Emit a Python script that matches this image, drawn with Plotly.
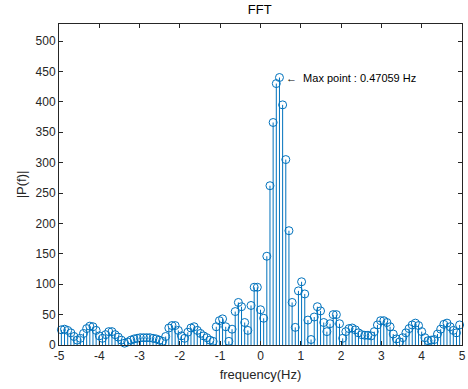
import numpy as np
import plotly.graph_objects as go

# frequency bins: k * fs/N with fs=20, N=255, shown within [-5, 5]
k_index = list(range(-63, 64))
df = 20.0 / 255.0
freq = [k * df for k in k_index]

magnitude = [
    # k = -63 .. -27
    25, 26, 24, 20, 14, 8, 11, 19, 27, 31, 30, 24, 15, 11, 17, 22, 22, 17, 13, 8,
    3, 5, 8, 10, 11, 12, 12, 12, 12, 11, 10, 8, 6, 14, 28, 32, 32,
    # k = -26 .. -1
    24, 15, 11, 21, 28, 30, 24, 19, 15, 12, 8, 6, 30, 40, 43, 30, 6, 26, 55, 70,
    63, 37, 24, 65, 95, 95,
    # k = 0 .. 25
    58, 44, 146, 262, 366, 430, 440, 395, 305, 188, 70, 29, 89, 104, 84, 41, 9, 46,
    63, 56, 37, 22, 35, 50, 50, 35,
    # k = 26 .. 63
    11, 22, 27, 28, 25, 20, 17, 16, 16, 15, 22, 33, 40, 40, 37, 30, 18, 10, 5, 12,
    20, 27, 33, 36, 32, 22, 12, 7, 8, 9, 18, 26, 34, 36, 30, 24, 20, 33,
]

x_ticks = [-5, -4, -3, -2, -1, 0, 1, 2, 3, 4, 5]
y_ticks = [0, 50, 100, 150, 200, 250, 300, 350, 400, 450, 500]

max_i = int(np.argmax(magnitude))
max_f = freq[max_i]
max_v = magnitude[max_i]

color = "#0072BD"
axis_col = "#262626"
fam = "Liberation Sans, Arial, sans-serif"

fig = go.Figure()
fig.add_trace(go.Scatter(
    x=freq, y=magnitude, mode="markers",
    marker=dict(symbol="circle-open", size=8, color=color, line=dict(width=1, color=color)),
    error_y=dict(type="data", symmetric=False, array=[0] * len(magnitude),
                 arrayminus=magnitude, width=0, thickness=1, color=color),
    showlegend=False, hoverinfo="x+y", cliponaxis=False,
))

fig.add_annotation(
    x=max_f, y=max_v, xref="x", yref="y",
    text="\u2190  Max point : %.5f Hz" % max_f,
    showarrow=False, xanchor="left", yanchor="middle", xshift=5,
    font=dict(family=fam, size=11, color="#000000"),
)

fig.update_layout(
    width=468, height=389,
    margin=dict(l=59, r=6, t=24, b=44, autoexpand=False),
    paper_bgcolor="white", plot_bgcolor="white",
    font=dict(family=fam, size=12, color=axis_col),
    title=dict(text="FFT", x=0.555, xanchor="center", y=0.975, yanchor="middle",
               automargin=False,
               font=dict(family=fam, size=13, color="#000000")),
    xaxis=dict(range=[-5, 5], tickvals=x_ticks, ticktext=[str(v) for v in x_ticks],
               automargin=False, ticklabeloverflow="allow",
               showgrid=False, zeroline=False, showline=True, linecolor=axis_col, linewidth=1,
               mirror="ticks", ticks="inside", ticklen=4, tickcolor=axis_col,
               tickfont=dict(size=12, color=axis_col),
               title=dict(text="frequency(Hz)", standoff=7, font=dict(size=13, color=axis_col))),
    yaxis=dict(range=[0, max_v * 1.2], tickvals=y_ticks, ticktext=[str(v) for v in y_ticks],
               automargin=False, ticklabeloverflow="allow",
               showgrid=False, zeroline=False, showline=True, linecolor=axis_col, linewidth=1,
               mirror="ticks", ticks="inside", ticklen=4, tickcolor=axis_col,
               tickfont=dict(size=12, color=axis_col),
               title=dict(text="|P(f)|", standoff=6, font=dict(size=13, color=axis_col))),
)

fig.write_html("out.html", config={"displayModeBar": False},
               post_script="document.body.style.margin='0';document.body.style.overflow='hidden';")
